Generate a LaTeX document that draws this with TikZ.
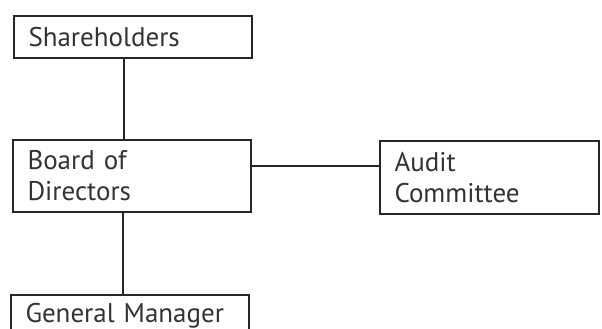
\documentclass[tikz,border=0pt]{standalone}
\usepackage{fontspec}
\setmainfont{PT Sans}
\begin{document}
\begin{tikzpicture}[x=1pt,y=1pt,
  orgbox/.style={draw=black!85, line width=1.2pt, rectangle, inner xsep=14.5pt, inner ysep=0pt,
    align=left, text=black!80, font=\fontsize{27}{31}\selectfont},
  link/.style={draw=black!85, line width=1.2pt}]
\clip (0,0) rectangle (602,329);
\fill[white] (0,0) rectangle (602,329);
\node[orgbox, minimum height=42pt, text width=209pt] (sh) at (133,292) {Shareholders};
\node[orgbox, minimum height=72pt, text width=209pt] (bd) at (132,153) {Board of\\Directors};
\node[orgbox, minimum height=73pt, text width=190pt] (au) at (489.5,151.5) {Audit\\Committee};
\node[orgbox, minimum height=42pt, text width=209pt] (gm) at (130,13) {General Manager};
\draw[link] ([xshift=-9pt]sh.south) -- ([xshift=-9pt]sh.south |- bd.north);
\draw[link] ([xshift=-9pt]bd.south) -- ([xshift=-9pt]bd.south |- gm.north);
\draw[link] ([yshift=10pt]bd.east) -- ([yshift=10pt]bd.east -| au.west);
\end{tikzpicture}
\end{document}
